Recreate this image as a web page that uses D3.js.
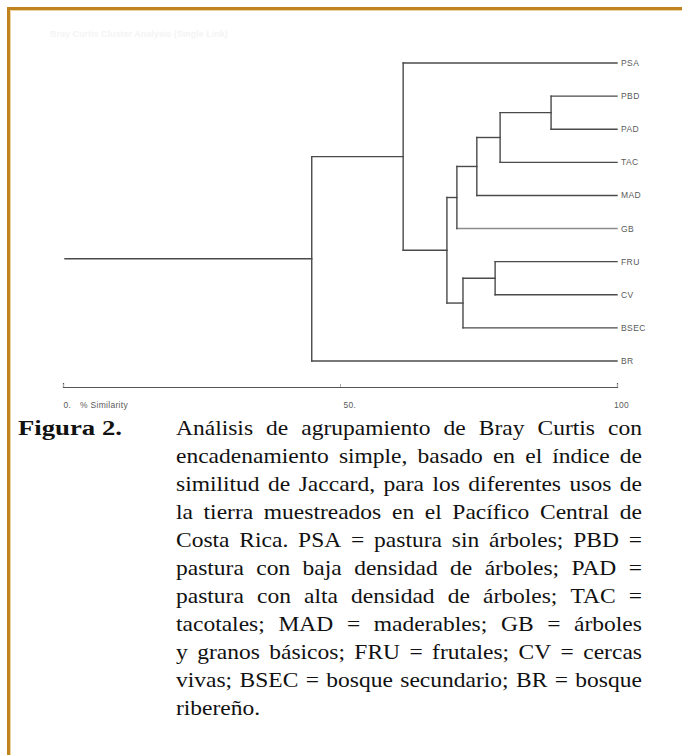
<!DOCTYPE html>
<html>
<head>
<meta charset="utf-8">
<script src="https://cdn.jsdelivr.net/npm/d3@7"></script>
<style>
  body { margin:0; background:#fff; }
  svg { display:block; }
</style>
</head>
<body>
<div id="container"></div>
<script>
// leaves in plotted order (top to bottom)
var leaves = ["PSA","PBD","PAD","TAC","MAD","GB","FRU","CV","BSEC","BR"];
// single link merges: left child, right child, % similarity
var mergeLeft  = ["PBD","m0","FRU","m1","m2","m3","m5","PSA","m7"];
var mergeRight = ["PAD","TAC","CV","MAD","BSEC","GB","m4","m6","BR"];
var mergeSim   = [88.1, 78.9, 78.0, 74.7, 72.2, 71.1, 69.3, 61.4, 44.9];
var axisTicks  = [0, 50, 100];
var axisTitle  = "% Similarity";
var chartTitle = "Bray Curtis Cluster Analysis (Single Link)";

var figLabel = "Figura 2.";
var captionLines = [
  "Análisis de agrupamiento de Bray Curtis con",
  "encadenamiento simple, basado en el índice de",
  "similitud de Jaccard, para los diferentes usos de",
  "la tierra muestreados en el  Pacífico Central de",
  "Costa Rica. PSA = pastura sin árboles; PBD =",
  "pastura con baja densidad de árboles; PAD =",
  "pastura con alta densidad de árboles; TAC =",
  "tacotales; MAD = maderables; GB = árboles",
  "y granos básicos; FRU = frutales; CV = cercas",
  "vivas; BSEC = bosque secundario; BR = bosque",
  "ribereño."
];

var W = 682, H = 755;
var svg = d3.select("#container").append("svg").attr("width", W).attr("height", H);

// frame (top + left rule)
svg.append("path").attr("d", "M8.5," + H + "V8.5H" + W)
  .attr("fill", "none").attr("stroke", "#c0841e").attr("stroke-width", 3);
svg.append("path").attr("d", "M10.5," + H + "V10.5H" + W)
  .attr("fill", "none").attr("stroke", "#ecd3a0").attr("stroke-width", 1);

svg.append("text").attr("x", 50).attr("y", 37).text(chartTitle)
  .style("font-family", "Arial, 'Liberation Sans', sans-serif")
  .style("font-size", "9px").style("font-weight", "bold").style("fill", "#f4f4f4");

var x = d3.scaleLinear().domain([0, 100]).range([63, 617]);
var y = d3.scalePoint().domain(leaves).range([63, 361]);

// node positions
var nodes = {};
leaves.forEach(function(l){ nodes[l] = {sim: 100, y: y(l)}; });
mergeSim.forEach(function(s, i){
  var a = nodes[mergeLeft[i]], b = nodes[mergeRight[i]];
  nodes["m" + i] = {sim: s, y: (a.y + b.y) / 2, a: a, b: b};
});
var root = nodes["m" + (mergeSim.length - 1)];

var g = svg.append("g");
var links = [];
d3.range(mergeSim.length).forEach(function(i){
  var n = nodes["m" + i];
  [n.a, n.b].forEach(function(c){
    links.push({x1: x(n.sim), y1: c.y, x2: x(c.sim), y2: c.y, leaf: c.sim === 100});
  });
  links.push({x1: x(n.sim), y1: n.a.y, x2: x(n.sim), y2: n.b.y});
});
links.push({x1: x(0) + 2, y1: root.y, x2: x(root.sim), y2: root.y});

g.selectAll("line").data(links).enter().append("line")
  .attr("x1", function(d){ return d.x1; })
  .attr("y1", function(d){ return d.y1; })
  .attr("x2", function(d){ return d.x2; })
  .attr("y2", function(d){ return d.y2; })
  .attr("stroke", function(d){ return (d.leaf && d.y1 === y("GB")) ? "#8c8c8c" : "#4a4a4a"; })
  .attr("stroke-width", 1.4)
  .attr("stroke-linecap", "square");

var sans = "Arial, 'Liberation Sans', sans-serif";
g.selectAll("text.leaf").data(leaves).enter().append("text")
  .attr("class", "leaf")
  .attr("x", x(100) + 4)
  .attr("y", function(d){ return y(d) + 3; })
  .text(function(d){ return d; })
  .style("font-family", sans).style("letter-spacing", "0.4px")
  .style("font-size", "8.5px").style("fill", "#5a5a5a");

// similarity axis
var axis = d3.axisBottom(x).tickValues(axisTicks)
  .tickSizeInner(-3).tickSizeOuter(-4).tickPadding(15)
  .tickFormat(function(d){ return d === 100 ? "100" : d + "."; });
var ag = svg.append("g").attr("transform", "translate(0,387)").call(axis);
ag.select(".domain").attr("stroke", "#555").attr("stroke-width", 1.2);
ag.selectAll(".tick line").attr("stroke", "#aaa");
ag.selectAll(".tick text")
  .attr("text-anchor", function(d){ return d === 100 ? "middle" : "start"; })
  .attr("dx", function(d){ return d === 100 ? 4 : (d === 50 ? 3 : 0); })
  .style("font-family", sans).style("letter-spacing", "0.3px")
  .style("font-size", "8.5px").style("fill", "#5a5a5a");
svg.append("text").attr("x", 80).attr("y", 408).text(axisTitle)
  .style("font-family", sans).style("letter-spacing", "0.3px")
  .style("font-size", "8.5px").style("fill", "#5a5a5a");

// caption, justified word by word (glyphs slightly widened as in the scan)
var capFont = "'Liberation Serif', 'Times New Roman', serif";
var capX = 176, capRight = 642, base0 = 435, lh = 28, capSize = 21, sx = 1.12;
var cap = svg.append("g").style("font-family", capFont).style("font-size", capSize + "px").style("fill", "#111");
var fig = cap.append("text").style("font-weight", "bold").text(figLabel);
var figW = fig.node().getComputedTextLength();
fig.attr("transform", "translate(18," + base0 + ") scale(" + (104 / figW) + ",1)");

captionLines.forEach(function(line, i){
  var words = line.split(/\s+/);
  var yy = base0 + i * lh;
  var widths = words.map(function(w){
    var t = cap.append("text").text(w);
    var wd = t.node().getComputedTextLength() * sx;
    t.remove();
    return wd;
  });
  var total = d3.sum(widths);
  var gap = (i === captionLines.length - 1 || words.length < 2) ? capSize * 0.3 :
    Math.max(3, (capRight - capX - total) / (words.length - 1));
  var cx = capX;
  words.forEach(function(w, j){
    cap.append("text").attr("transform", "translate(" + cx + "," + yy + ") scale(" + sx + ",1)").text(w);
    cx += widths[j] + gap;
  });
});
</script>
</body>
</html>
